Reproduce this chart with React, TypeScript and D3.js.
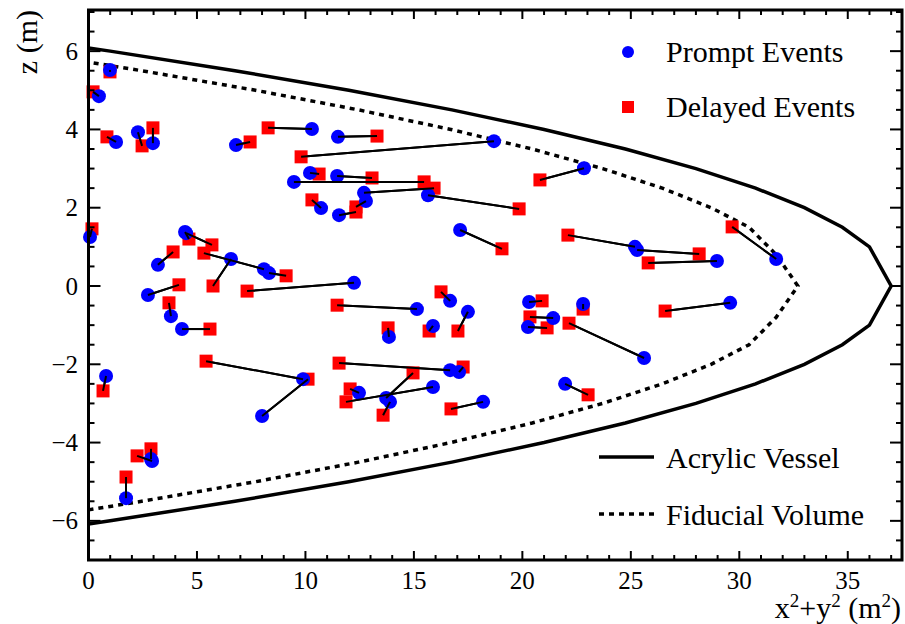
import React from "react";
import * as d3 from "d3";

// Prompt (circle) and delayed (square) event coordinates, paired by index
const promptX = [0.99, 0.48, 1.27, 2.28, 2.97, 6.8, 10.3, 11.5, 18.69, 10.21, 9.47, 11.46, 12.7, 10.72, 11.55, 12.79, 15.65, 17.13, 22.84, 25.19, 25.29, 28.97, 31.7, 0.07, 4.5, 4.45, 3.2, 8.09, 6.57, 8.32, 2.74, 3.8, 4.31, 9.89, 8.0, 0.81, 2.93, 2.88, 1.73, 12.24, 15.14, 16.67, 13.85, 15.88, 17.49, 16.67, 17.08, 13.72, 13.9, 12.47, 15.88, 18.19, 21.97, 25.61, 20.31, 21.42, 20.26, 22.8, 29.58];
const promptZ = [5.52, 4.85, 3.68, 3.93, 3.65, 3.6, 4.01, 3.81, 3.7, 2.89, 2.66, 2.81, 2.38, 1.99, 1.81, 2.17, 2.32, 1.43, 3.01, 1.0, 0.92, 0.64, 0.69, 1.25, 1.35, 1.38, 0.54, 0.43, 0.69, 0.33, -0.23, -0.77, -1.1, -2.38, -3.32, -2.3, -4.47, -4.42, -5.42, 0.08, -0.59, -0.38, -1.3, -1.02, -0.66, -2.15, -2.2, -2.86, -2.96, -2.73, -2.58, -2.96, -2.5, -1.84, -0.41, -0.82, -1.05, -0.46, -0.43];
const delayedX = [0.99, 0.21, 0.85, 2.47, 2.97, 7.45, 8.28, 13.3, 9.8, 10.63, 15.47, 13.07, 15.93, 10.3, 12.33, 12.33, 19.85, 19.06, 20.81, 22.1, 28.15, 25.8, 29.67, 0.16, 5.69, 4.63, 3.9, 5.32, 5.74, 9.11, 4.17, 3.71, 5.6, 5.42, 10.12, 0.67, 2.24, 2.88, 1.73, 7.31, 11.46, 16.25, 13.81, 15.7, 17.03, 11.55, 17.27, 14.96, 13.58, 12.06, 11.87, 16.71, 23.03, 22.15, 20.91, 20.35, 21.14, 22.8, 26.58];
const delayedZ = [5.47, 4.96, 3.81, 3.58, 4.04, 3.68, 4.04, 3.83, 3.3, 2.86, 2.66, 2.76, 2.5, 2.2, 1.89, 2.02, 1.97, 0.95, 2.71, 1.3, 0.82, 0.59, 1.51, 1.46, 1.05, 1.2, 0.87, 0.84, 0.0, 0.26, 0.03, -0.43, -1.1, -1.92, -2.38, -2.68, -4.34, -4.16, -4.88, -0.13, -0.49, -0.15, -1.07, -1.15, -1.15, -1.97, -2.07, -2.22, -3.3, -2.63, -2.96, -3.14, -2.78, -0.95, -0.38, -0.79, -1.07, -0.59, -0.64];

// Boundary outlines (z in m, rho^2 in m^2)
const vesselZ = [-6.08, -6, -5.5, -5, -4.5, -4, -3.5, -3, -2.5, -2, -1.5, -1, 0, 1, 1.5, 2, 2.5, 3, 3.5, 4, 4.5, 5, 5.5, 6, 6.08];
const vesselR2 = [0, 1, 6.75, 12, 16.75, 21, 24.75, 28, 30.75, 33, 34.75, 36, 37, 36, 34.75, 33, 30.75, 28, 24.75, 21, 16.75, 12, 6.75, 1, 0];
const fiducialZ = [-5.72, -5.5, -5, -4.5, -4, -3.5, -3, -2.5, -2, -1.5, -0.8, 0, 0.8, 1.5, 2, 2.5, 3, 3.5, 4, 4.5, 5, 5.5, 5.72];
const fiducialR2 = [0, 2.45, 7.7, 12.45, 16.7, 20.45, 23.7, 26.45, 28.7, 30.45, 31.7, 32.7, 31.7, 30.45, 28.7, 26.45, 23.7, 20.45, 16.7, 12.45, 7.7, 2.45, 0];

const xTicks = [0, 5, 10, 15, 20, 25, 30, 35];
const yTicks = [-6, -4, -2, 0, 2, 4, 6];

const W = 905, H = 624;
const L = 88.5, R = 902, T = 12, B = 560;
const FONT = "'Liberation Serif', 'Times New Roman', serif";

export default function App() {
  const x = d3.scaleLinear().domain([0, 37.5]).range([L, R]);
  const y = d3.scaleLinear().domain([-7, 7]).range([B, T]);
  const line = d3.line<[number, number]>().x((d) => x(d[0])).y((d) => y(d[1]));
  const vessel = line(vesselZ.map((z, i) => [vesselR2[i], z]));
  const fid = line(fiducialZ.map((z, i) => [fiducialR2[i], z]));
  const fmt = d3.format("d");
  const xMinor = d3.range(0, 38, 1);
  const yMinor = d3.range(-7, 7.01, 0.5);

  return (
    <svg width={W} height={H} style={{ position: "absolute", left: 0, top: 0, background: "#fff" }}>
      <rect x={0} y={0} width={W} height={H} fill="#fff" />
      <path d={vessel || ""} fill="none" stroke="#000" strokeWidth={3.5} strokeLinejoin="miter" />
      <path d={fid || ""} fill="none" stroke="#000" strokeWidth={3.5} strokeDasharray="5,5" />
      {promptX.map((px, i) => (
        <line key={"l" + i} x1={x(px)} y1={y(promptZ[i])} x2={x(delayedX[i])} y2={y(delayedZ[i])} stroke="#000" strokeWidth={2} />
      ))}
      {delayedX.map((dx, i) => (
        <rect key={"s" + i} x={x(dx) - 6.5} y={y(delayedZ[i]) - 6.5} width={13} height={13} fill="#ff0000" />
      ))}
      {promptX.map((px, i) => (
        <circle key={"c" + i} cx={x(px)} cy={y(promptZ[i])} r={7} fill="#0000ff" />
      ))}
      {promptX.map((px, i) => (
        <line key={"l2" + i} x1={x(px)} y1={y(promptZ[i])} x2={x(delayedX[i])} y2={y(delayedZ[i])} stroke="#000" strokeWidth={2} />
      ))}
      <rect x={L} y={T - 2} width={R - L} height={B - T + 2} fill="none" stroke="#000" strokeWidth={3} />
      {xMinor.map((v) => {
        const major = v % 5 === 0;
        const len = major ? 9 : 5;
        return (
          <g key={"xt" + v}>
            <line x1={x(v)} x2={x(v)} y1={B} y2={B - len} stroke="#000" strokeWidth={2} />
            <line x1={x(v)} x2={x(v)} y1={T - 2} y2={T - 2 + len} stroke="#000" strokeWidth={2} />
          </g>
        );
      })}
      {yMinor.map((v) => {
        const major = Math.abs(v % 2) < 1e-6;
        const len = major ? 12 : 6;
        return (
          <g key={"yt" + v}>
            <line x1={L} x2={L + len} y1={y(v)} y2={y(v)} stroke="#000" strokeWidth={2} />
            <line x1={R} x2={R - len} y1={y(v)} y2={y(v)} stroke="#000" strokeWidth={2} />
          </g>
        );
      })}
      {xTicks.map((v) => (
        <text key={"xl" + v} x={x(v)} y={589} textAnchor="middle" fontFamily={FONT} fontSize={25} fill="#000">{fmt(v)}</text>
      ))}
      {yTicks.map((v) => (
        <text key={"yl" + v} x={78} y={y(v) + 8.5} textAnchor="end" fontFamily={FONT} fontSize={25} fill="#000">{fmt(v)}</text>
      ))}
      <text x={901} y={618} textAnchor="end" fontFamily={FONT} fontSize={30} fill="#000">
        x<tspan dy={-11} fontSize={19}>2</tspan><tspan dy={11}>+y</tspan><tspan dy={-11} fontSize={19}>2</tspan><tspan dy={11}> (m</tspan><tspan dy={-11} fontSize={19}>2</tspan><tspan dy={11}>)</tspan>
      </text>
      <text transform="translate(37,10) rotate(-90)" textAnchor="end" fontFamily={FONT} fontSize={30} fill="#000">z (m)</text>
      <circle cx={628} cy={52} r={6} fill="#0000ff" />
      <text x={666} y={62} fontFamily={FONT} fontSize={30} fill="#000">Prompt Events</text>
      <rect x={622} y={101} width={12} height={12} fill="#ff0000" />
      <text x={666} y={117} fontFamily={FONT} fontSize={30} fill="#000">Delayed Events</text>
      <line x1={599} x2={654} y1={457} y2={457} stroke="#000" strokeWidth={3.5} />
      <text x={666} y={468} fontFamily={FONT} fontSize={30} fill="#000">Acrylic Vessel</text>
      <line x1={599} x2={654} y1={514} y2={514} stroke="#000" strokeWidth={3.5} strokeDasharray="5,5" />
      <text x={666} y={525} fontFamily={FONT} fontSize={30} fill="#000">Fiducial Volume</text>
    </svg>
  );
}
